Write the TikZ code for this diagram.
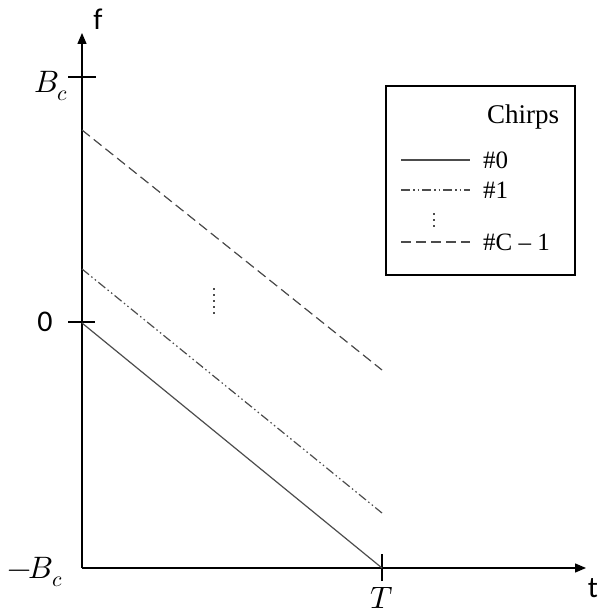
\documentclass[tikz,border=0pt]{standalone}
\usepackage{fontspec}
\usepackage{unicode-math}
\setsansfont{Carlito}
\newfontfamily\legfont{Liberation Serif}
\usetikzlibrary{arrows.meta,positioning}

\begin{document}
\begin{tikzpicture}[x=1pt, y=-1pt,
  axis/.style={-{Triangle[length=11pt,width=9pt]}, line width=1.3pt},
  tck/.style={line width=1.7pt},
  lbl/.style={font=\fontsize{30}{32}\selectfont\sffamily, inner sep=0pt},
  mlbl/.style={font=\fontsize{31}{33}\selectfont, inner sep=0pt},
  leg/.style={font=\fontsize{25}{27}\selectfont\legfont, inner sep=0pt, anchor=west},
  chirp/.style={line width=1.2pt, black!70},
  chirpA/.style={chirp},
  chirpB/.style={chirp, dash pattern=on 9pt off 3pt on 1.5pt off 3pt on 1.5pt off 3pt},
  chirpC/.style={chirp, dash pattern=on 10pt off 5pt},
  vdots/.style={line width=2.2pt, black!70, dash pattern=on 2pt off 4pt}
]
  \useasboundingbox (0,0) rectangle (603,615);

  % axes
  \coordinate (O)    at (82,568);
  \coordinate (ftop) at (82,33);
  \coordinate (tend) at (586,568);
  \draw[axis] (O) -- (ftop);
  \draw[axis] (O) -- (tend);
  \node[lbl] (f) at (98,19) {f};
  \node[lbl] (t) at (593,588) {t};

  % ticks
  \coordinate (Bc) at (82,77);
  \coordinate (zero) at (82,322);
  \coordinate (T) at (382,568);
  \draw[tck] ([xshift=-14pt]Bc) -- ([xshift=14pt]Bc);
  \draw[tck] ([xshift=-14pt]zero) -- ([xshift=13pt]zero);
  \draw[tck] ([yshift=-13pt]T) -- ([yshift=14pt]T);
  \node[mlbl] (lBc) at (51,86) {$B_c$};
  \node[lbl] (lzero) at (45,322) {0};
  \node[mlbl] (lmBc) at (35,572) {$-\mkern-1.5mu B_c$};
  \node[mlbl] (lT) at (382,598) {$T$};

  % chirps
  \coordinate (s0) at (82,323);  \coordinate (e0) at (382,568);
  \coordinate (s1) at (82,269);  \coordinate (e1) at (382,513);
  \coordinate (sC) at (82,130);  \coordinate (eC) at (382,370);
  \foreach \a/\b/\st in {s0/e0/chirpA, s1/e1/chirpB, sC/eC/chirpC}
    \draw[\st] (\a) -- (\b);
  \draw[vdots] (214,288) -- (214,316);

  % legend
  \node[draw, line width=1.1pt, minimum width=189pt, minimum height=189pt,
        inner sep=0pt] (legend) at (480.5,180.5) {};
  \node[font=\fontsize{27}{29}\selectfont\legfont, inner sep=0pt] (ltitle)
    at (523,117) {Chirps};
  \node[leg] (l0) at (483,160) {\#0};
  \node[leg] (l1) at (483,190) {\#1};
  \node[leg] (lC) at (483,242) {\#C – 1};
  \foreach \n/\st in {l0/chirpA, l1/chirpB, lC/chirpC}
    \draw[\st] ([xshift=-82pt]\n.west) -- ([xshift=-13pt]\n.west);
  \draw[vdots, line width=1.8pt] (434,213) -- (434,229);
\end{tikzpicture}
\end{document}
